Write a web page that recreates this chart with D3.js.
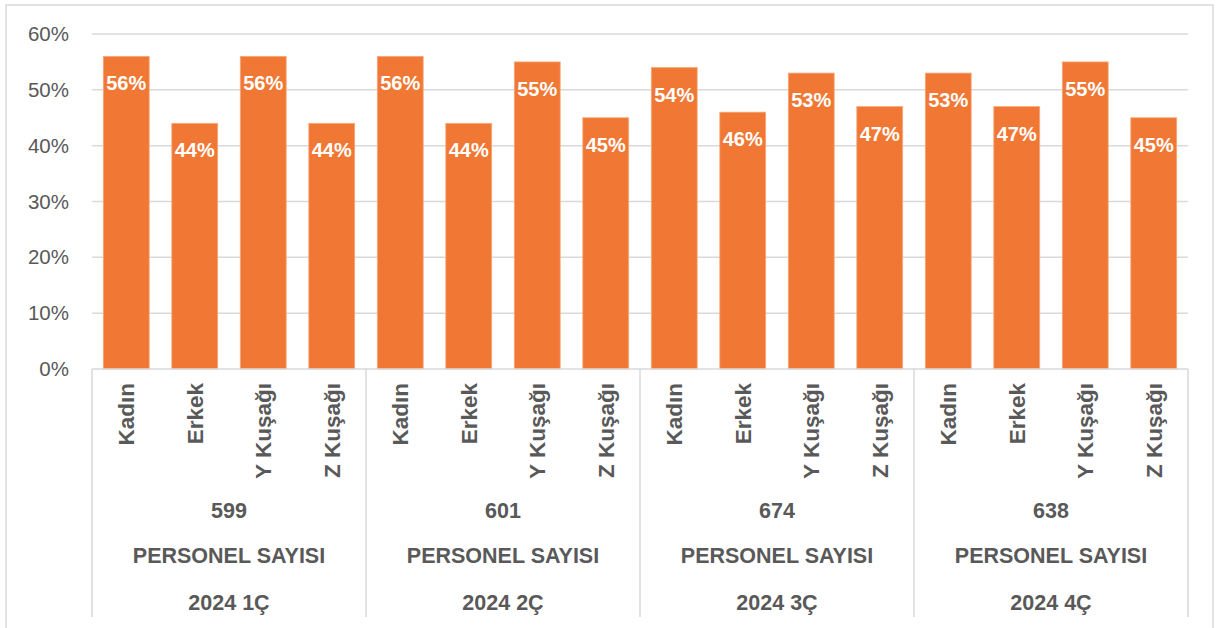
<!DOCTYPE html>
<meta charset="utf-8">
<html>
<style>
  body { margin: 0; background: #fff; }
  text { font-family: "Liberation Sans", Arial, sans-serif; }
</style>
<body>
<div id="my_dataviz"></div>
<script src="https://d3js.org/d3.v7.min.js"></script>
<script>

// data
var groups = ["2024 1Ç", "2024 2Ç", "2024 3Ç", "2024 4Ç"];
var counts = [599, 601, 674, 638];
var cats = ["Kadın", "Erkek", "Y Kuşağı", "Z Kuşağı"];
var values = [
  [56, 44, 56, 44],
  [56, 44, 55, 45],
  [54, 46, 53, 47],
  [53, 47, 55, 45]
];
var yTicks = [0, 10, 20, 30, 40, 50, 60];

var W = 1217, H = 628;
var plotLeft = 92, plotRight = 1188, plotTop = 34, plotBottom = 369;
var grey = "#595959", lineCol = "#D9D9D9", orange = "#F07834";

var svg = d3.select("#my_dataviz")
  .append("svg")
  .attr("width", W)
  .attr("height", H);

// outer frame
svg.append("rect")
  .attr("x", 6).attr("y", 5)
  .attr("width", 1207).attr("height", 640)
  .attr("fill", "none")
  .attr("stroke", lineCol)
  .attr("stroke-width", 1.5);

// flatten into one row per bar
var rows = [];
groups.forEach(function(g, i) {
  cats.forEach(function(c, j) {
    rows.push({key: g + "|" + c, group: g, cat: c, value: values[i][j]});
  });
});

var xGroup = d3.scaleBand().domain(groups).range([plotLeft, plotRight]);
var x = d3.scaleBand()
  .domain(rows.map(function(d) { return d.key; }))
  .range([plotLeft, plotRight])
  .paddingInner(0.33)
  .paddingOuter(0.165);
var y = d3.scaleLinear().domain([0, 60]).range([plotBottom, plotTop]);

// gridlines
svg.append("g")
  .selectAll("line")
  .data(yTicks.filter(function(t) { return t > 0; }))
  .enter()
  .append("line")
    .attr("x1", plotLeft).attr("x2", plotRight)
    .attr("y1", function(d) { return y(d); })
    .attr("y2", function(d) { return y(d); })
    .attr("stroke", lineCol)
    .attr("stroke-width", 1.5);

// y axis labels
var yAxis = svg.append("g")
  .attr("transform", "translate(" + (plotLeft - 23) + ",0)")
  .call(d3.axisLeft(y).tickValues(yTicks).tickSize(0).tickFormat(function(d) { return d + "%"; }));
yAxis.select(".domain").remove();
yAxis.selectAll("text")
  .attr("x", 0)
  .style("font-size", "20.5px")
  .style("font-family", "'Liberation Sans', Arial, sans-serif")
  .style("fill", grey);

// bars
svg.append("g")
  .selectAll("rect")
  .data(rows)
  .enter()
  .append("rect")
    .attr("x", function(d) { return x(d.key); })
    .attr("y", function(d) { return y(d.value); })
    .attr("width", x.bandwidth())
    .attr("height", function(d) { return plotBottom - y(d.value); })
    .attr("fill", orange)
    .attr("stroke", "#F6A97C")
    .attr("stroke-width", 0.8);

// value labels
svg.append("g")
  .selectAll("text")
  .data(rows)
  .enter()
  .append("text")
    .attr("x", function(d) { return x(d.key) + x.bandwidth() / 2; })
    .attr("y", function(d) { return y(d.value) + 34; })
    .attr("text-anchor", "middle")
    .style("font-size", "20px")
    .style("font-weight", "bold")
    .style("fill", "#fff")
    .text(function(d) { return d.value + "%"; });

// x axis baseline and group separators
svg.append("line")
  .attr("x1", plotLeft).attr("x2", plotRight)
  .attr("y1", plotBottom).attr("y2", plotBottom)
  .attr("stroke", lineCol).attr("stroke-width", 1.5);

var seps = groups.map(function(g) { return xGroup(g); }).concat([plotRight]);
svg.append("g")
  .selectAll("line")
  .data(seps)
  .enter()
  .append("line")
    .attr("x1", function(d) { return d; })
    .attr("x2", function(d) { return d; })
    .attr("y1", plotBottom).attr("y2", 617)
    .attr("stroke", lineCol).attr("stroke-width", 1.5);

// rotated category labels
svg.append("g")
  .selectAll("text")
  .data(rows)
  .enter()
  .append("text")
    .attr("transform", function(d) {
      return "translate(" + (x(d.key) + x.bandwidth() / 2) + ",383) rotate(-90)";
    })
    .attr("dy", "0.36em")
    .attr("text-anchor", "end")
    .style("font-size", "22.5px")
    .style("font-weight", "bold")
    .style("fill", grey)
    .text(function(d) { return d.cat; });

// group rows: count, title, quarter
var groupText = function(yPos, fn) {
  svg.append("g")
    .selectAll("text")
    .data(groups)
    .enter()
    .append("text")
      .attr("x", function(d) { return xGroup(d) + xGroup.bandwidth() / 2; })
      .attr("y", yPos)
      .attr("text-anchor", "middle")
      .style("font-size", "21.5px")
      .style("font-weight", "bold")
      .style("fill", grey)
      .text(fn);
};
groupText(518, function(d, i) { return counts[i]; });
groupText(563, function() { return "PERSONEL SAYISI"; });
groupText(610, function(d) { return d; });

</script>
</body>
</html>
